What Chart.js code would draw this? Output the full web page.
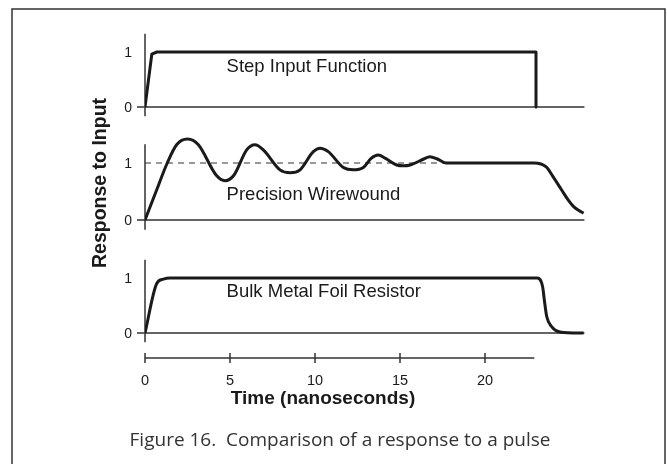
<!DOCTYPE html>
<html>
<head>
<meta charset="utf-8">
<script src="https://cdn.jsdelivr.net/npm/chart.js@4/dist/chart.umd.min.js"></script>
<style>
  html, body { margin: 0; padding: 0; background: #fff; }
  #wrap { width: 667px; height: 464px; }
</style>
</head>
<body>
<div id="wrap"><canvas id="chart" width="667" height="464"></canvas></div>
<script>
// time in nanoseconds, response normalised so that 1 = input level
const stepTime  = [0, 0.4, 0.7, 23, 23];
const stepValue = [0, 0.96, 1, 1, 0];

const wireTime  = [0, 0.65, 1.31, 1.86, 2.5, 3.14, 4.18, 4.71, 5.24, 5.98, 6.47, 6.96, 7.94, 8.53, 9.12, 9.9, 10.3, 10.78, 11.67, 12.25, 12.84, 13.3, 13.72, 14.15, 14.8, 15.2, 15.6, 16.4, 16.76, 17.2, 17.7, 22.9, 23.6, 24.0, 24.5, 24.9, 25.2, 25.5, 25.8];
const wireValue = [0, 0.5, 1.0, 1.32, 1.42, 1.32, 0.79, 0.69, 0.79, 1.23, 1.32, 1.23, 0.88, 0.83, 0.88, 1.2, 1.26, 1.2, 0.92, 0.88, 0.92, 1.08, 1.14, 1.08, 0.965, 0.95, 0.965, 1.07, 1.11, 1.07, 1.0, 1.0, 0.93, 0.76, 0.53, 0.35, 0.24, 0.17, 0.12];

const foilTime  = [0, 0.69, 1.08, 1.47, 23.08, 23.39, 23.49, 23.63, 23.92, 24.41, 25.8];
const foilValue = [0, 0.9, 0.98, 1.0, 1.0, 0.84, 0.6, 0.3, 0.115, 0.02, 0];

const xTicks = [0, 5, 10, 15, 20];
const yTicks = [0, 1];
const panelNames = ['Step Input Function', 'Precision Wirewound', 'Bulk Metal Foil Resistor'];

// layout: each panel gets its own y axis; base = pixel row of 0, unit = px per 1.0
const area = { top: 20, bottom: 370 };
const panels = [
  { id: 'y1', base: 107, unit: 55, labelY: 0.73 },
  { id: 'y2', base: 220, unit: 57, labelY: 0.44 },
  { id: 'y3', base: 333, unit: 55, labelY: 0.75 },
];

const pts = (xs, ys) => xs.map((t, i) => ({ x: t, y: ys[i] }));

const scales = {
  x: { type: 'linear', min: 0, max: 26, display: false },
};
panels.forEach(p => {
  const max = (p.base - area.top) / p.unit;
  scales[p.id] = {
    type: 'linear',
    display: false,
    max: max,
    min: max - (area.bottom - area.top) / p.unit,
  };
});

const INK = '#1a1a1a';
const AXIS = '#333';

// axes, baselines, tick labels and text for the three stacked panels
const panelAxes = {
  id: 'panelAxes',
  beforeDatasetsDraw(chart) {
    const { ctx } = chart;
    const x = chart.scales.x;
    const x0 = x.getPixelForValue(0);
    ctx.save();

    // figure frame
    ctx.strokeStyle = AXIS;
    ctx.lineWidth = 1.5;
    ctx.strokeRect(12, 9, 653, 480);

    panels.forEach((p, i) => {
      const ys = chart.scales[p.id];
      ctx.strokeStyle = AXIS;
      ctx.lineWidth = 1.5;
      ctx.setLineDash([]);
      ctx.beginPath();
      ctx.moveTo(x0, ys.getPixelForValue(1.33));
      ctx.lineTo(x0, ys.getPixelForValue(-0.17));
      ctx.moveTo(x0 - 8, ys.getPixelForValue(0));
      ctx.lineTo(x.getPixelForValue(25.85), ys.getPixelForValue(0));
      ctx.stroke();

      if (p.id === 'y2') {
        ctx.lineWidth = 1.2;
        ctx.setLineDash([6, 5]);
        ctx.beginPath();
        ctx.moveTo(x0, ys.getPixelForValue(1));
        ctx.lineTo(x.getPixelForValue(17.6), ys.getPixelForValue(1));
        ctx.stroke();
        ctx.setLineDash([]);
      }

      ctx.fillStyle = INK;
      ctx.font = '14px "Liberation Sans", Arial, sans-serif';
      ctx.textAlign = 'right';
      ctx.textBaseline = 'middle';
      yTicks.forEach(v => ctx.fillText(String(v), 132, ys.getPixelForValue(v) + 1));

      ctx.font = '18.5px "Liberation Sans", Arial, sans-serif';
      ctx.textAlign = 'left';
      ctx.fillText(panelNames[i], x.getPixelForValue(4.8), ys.getPixelForValue(p.labelY));
    });

    // time axis
    const axisY = 358;
    ctx.strokeStyle = AXIS;
    ctx.lineWidth = 1.5;
    ctx.beginPath();
    ctx.moveTo(x0, axisY);
    ctx.lineTo(x.getPixelForValue(22.9), axisY);
    xTicks.forEach(t => {
      const px = x.getPixelForValue(t);
      ctx.moveTo(px, axisY - 5);
      ctx.lineTo(px, axisY + 5);
    });
    ctx.stroke();

    ctx.fillStyle = INK;
    ctx.font = '14.5px "Liberation Sans", Arial, sans-serif';
    ctx.textAlign = 'center';
    ctx.textBaseline = 'middle';
    xTicks.forEach(t => ctx.fillText(String(t), x.getPixelForValue(t), 381));

    ctx.font = 'bold 19px "Liberation Sans", Arial, sans-serif';
    ctx.fillText('Time (nanoseconds)', 323, 399);

    ctx.save();
    ctx.translate(101, 183);
    ctx.rotate(-Math.PI / 2);
    ctx.font = 'bold 19.5px "Liberation Sans", Arial, sans-serif';
    ctx.fillText('Response to Input', 0, 0);
    ctx.restore();

    ctx.fillStyle = '#333';
    ctx.font = '19px "Open Sans", sans-serif';
    ctx.fillText('Figure 16.  Comparison of a response to a pulse', 340, 441);

    ctx.restore();
  }
};

const line = (data, axis, mode, tension) => ({
  data: data,
  yAxisID: axis,
  borderColor: INK,
  borderWidth: 3,
  pointRadius: 0,
  fill: false,
  tension: tension,
  cubicInterpolationMode: mode,
  borderJoinStyle: 'round',
});

new Chart(document.getElementById('chart'), {
  type: 'line',
  data: {
    datasets: [
      line(pts(stepTime, stepValue), 'y1', 'default', 0),
      line(pts(wireTime, wireValue), 'y2', 'monotone', 0),
      line(pts(foilTime, foilValue), 'y3', 'monotone', 0),
    ],
  },
  options: {
    responsive: false,
    animation: false,
    devicePixelRatio: 1,
    layout: { padding: { left: 145, right: 80, top: area.top, bottom: 464 - area.bottom } },
    plugins: { legend: { display: false }, tooltip: { enabled: false } },
    scales: scales,
  },
  plugins: [panelAxes],
});
</script>
</body>
</html>
